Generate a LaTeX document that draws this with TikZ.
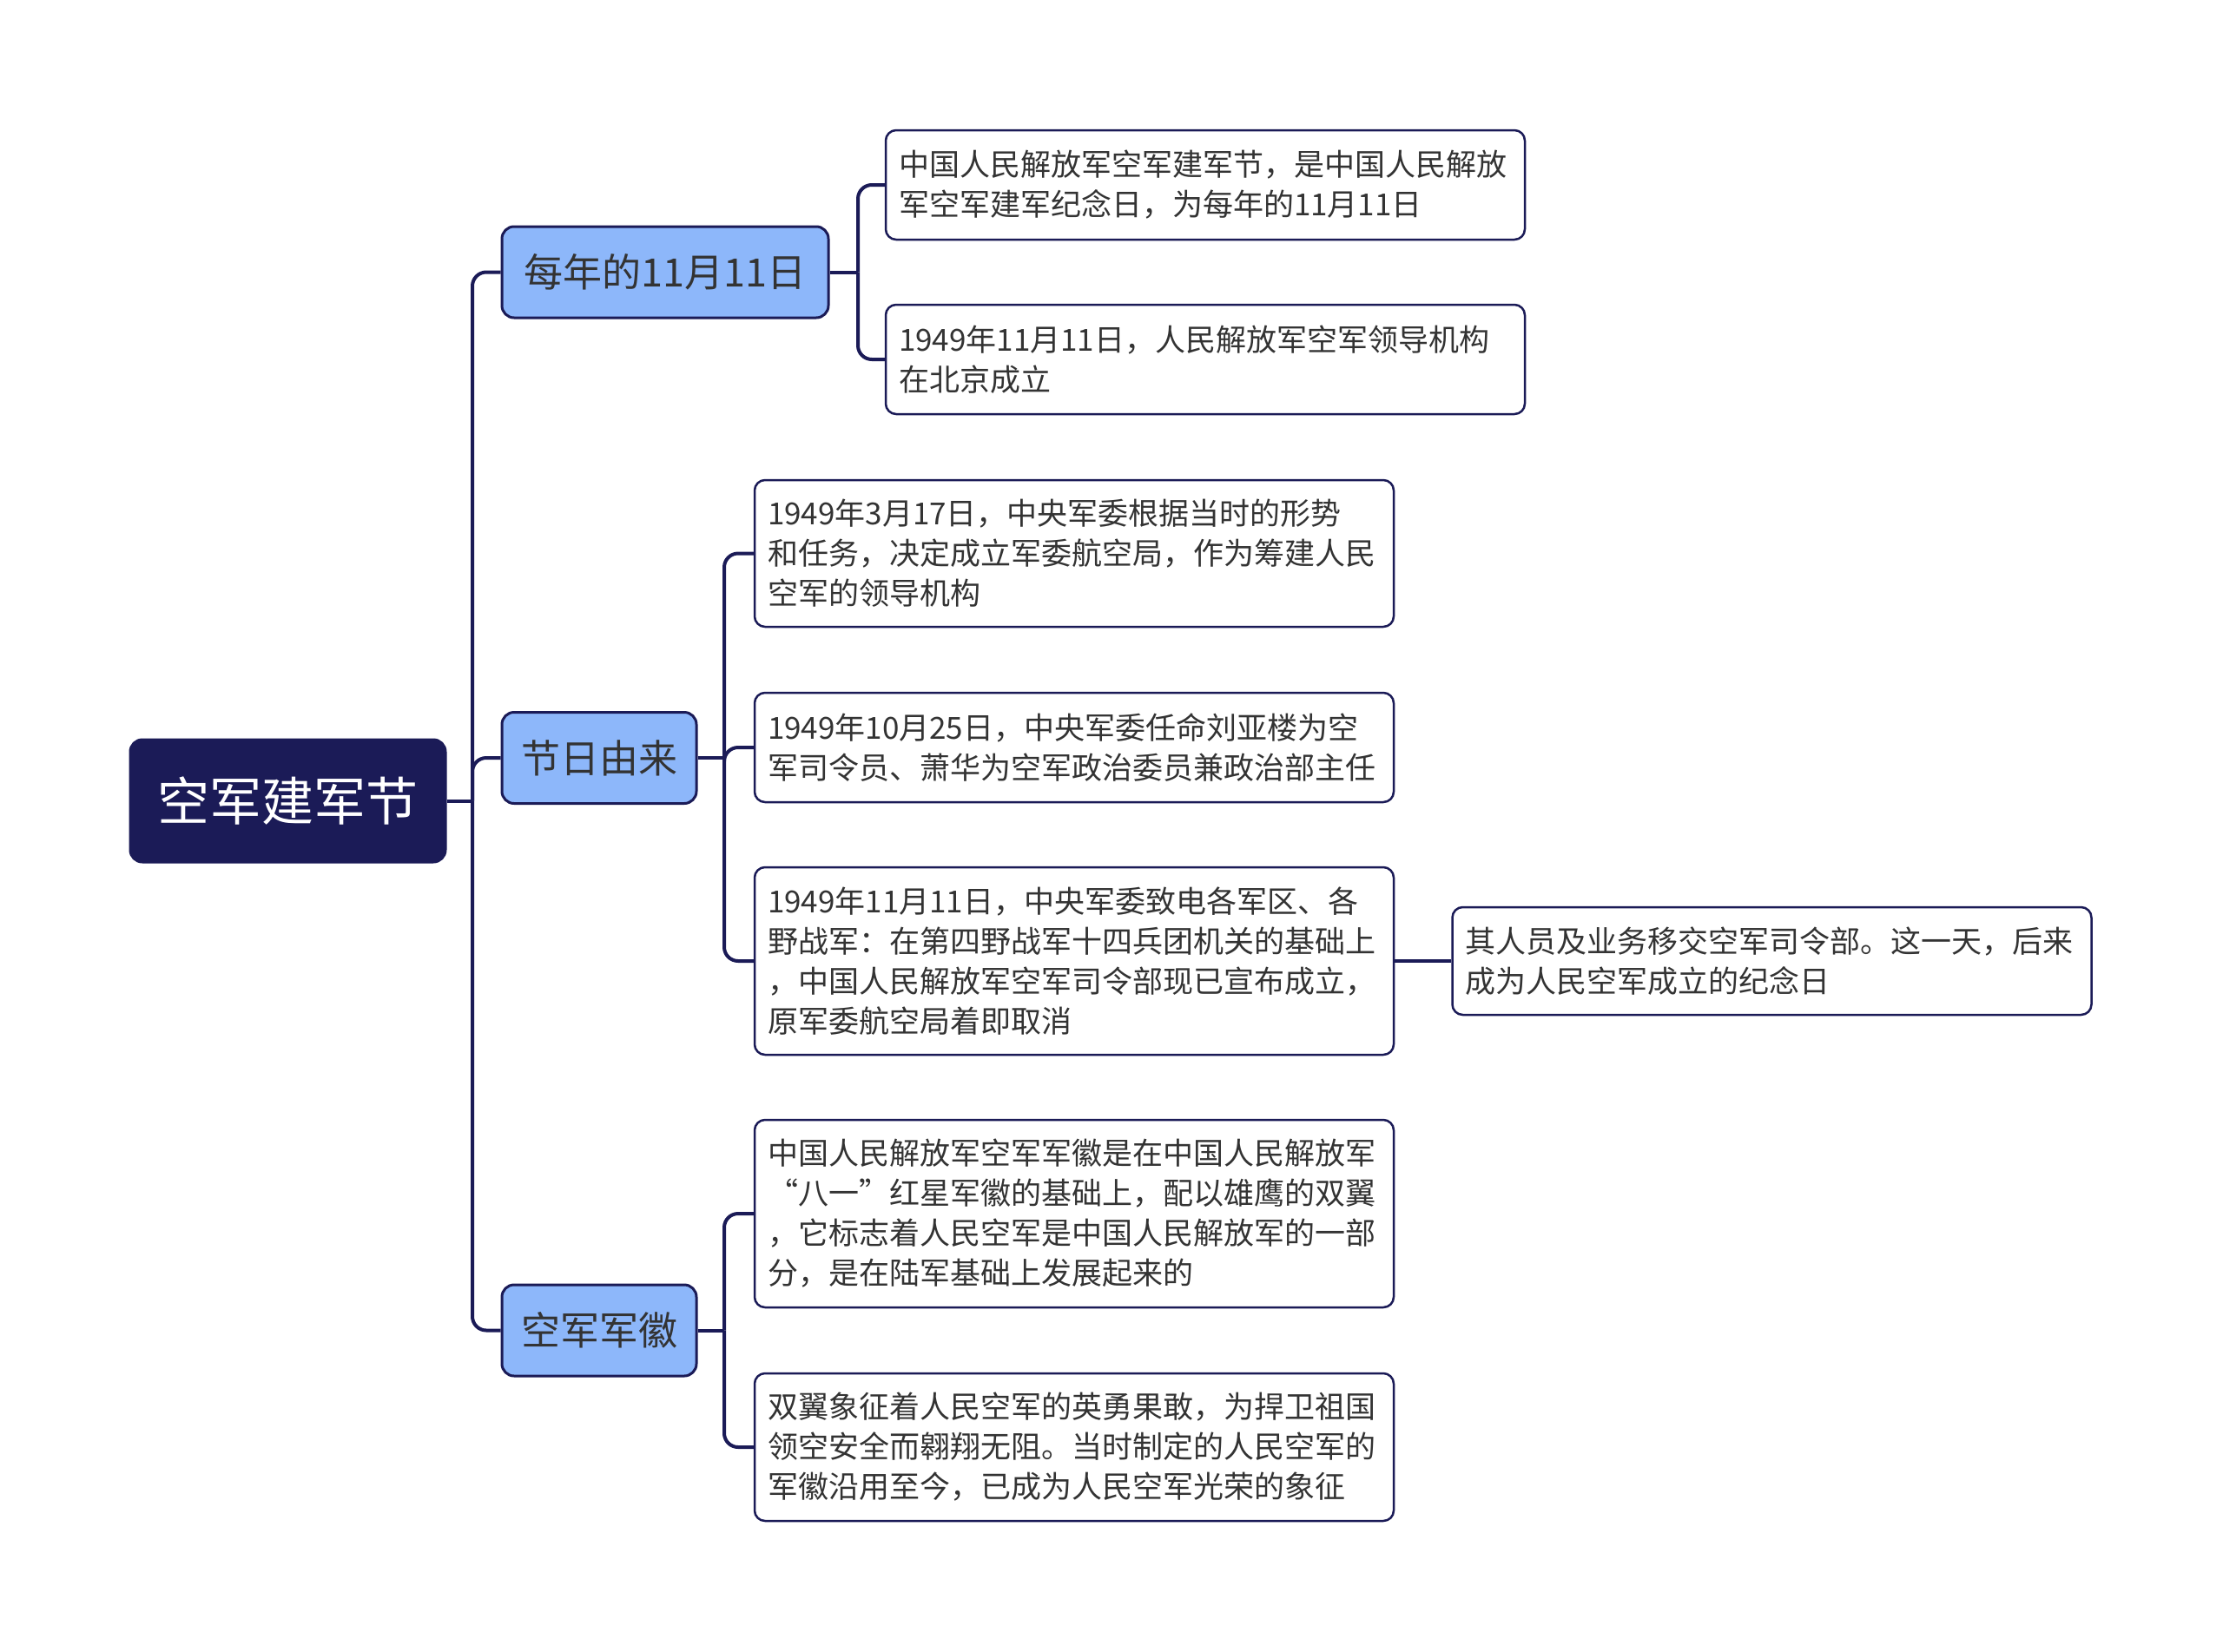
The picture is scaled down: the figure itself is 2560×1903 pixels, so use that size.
\documentclass[tikz,border=0pt]{standalone}
\usepackage{fontspec}
\setmainfont{Noto Sans CJK SC}
\definecolor{navy}{RGB}{27,27,87}
\definecolor{skyblue}{RGB}{141,183,250}
\definecolor{inkgray}{RGB}{51,51,51}
\tikzset{
  rootbox/.style={draw=navy, fill=navy, text=white, rounded corners=14pt, line width=3pt,
    font=\fontsize{60}{72}\selectfont, minimum width=363pt, minimum height=141pt},
  topicbox/.style={draw=navy, fill=skyblue, text=inkgray, rounded corners=14pt, line width=3pt,
    font=\fontsize{45}{54}\selectfont, minimum height=105pt, inner xsep=22pt},
  leafbox/.style={draw=navy, fill=white, text=inkgray, rounded corners=12pt, line width=2.5pt,
    font=\fontsize{35}{46}\selectfont, text width=706pt, align=left, inner xsep=15pt, inner ysep=6pt},
  link/.style={navy, line width=4pt, rounded corners=16pt},
}

\begin{document}
\begin{tikzpicture}[x=1pt, y=-1pt]
    \useasboundingbox[fill=white] (0,0) rectangle (2560,1903);
    % root and topics
    \node[rootbox] (root) at (331.5,922.5) {空军建军节};
    \node[topicbox, minimum width=376pt] (yearly) at (766,313.5) {每年的11月11日};
    \node[topicbox, minimum width=224pt] (origin) at (690,873) {节日由来};
    \node[topicbox, minimum width=224pt] (badge) at (690,1532.5) {空军军徽};
    % leaves
    \node[leafbox, minimum height=126pt] (leafA) at (1388,213) {中国人民解放军空军建军节，是中国人民解放\\军空军建军纪念日，为每年的11月11日};
    \node[leafbox, minimum height=126pt] (leafB) at (1388,414) {1949年11月11日，人民解放军空军领导机构\\在北京成立};
    \node[leafbox, minimum height=169pt] (leafC) at (1237,637.5) {1949年3月17日，中央军委根据当时的形势\\和任务，决定成立军委航空局，作为筹建人民\\空军的领导机构};
    \node[leafbox, minimum height=126pt] (leafD) at (1237,861) {1949年10月25日，中央军委任命刘亚楼为空\\军司令员、萧华为空军政治委员兼政治部主任};
    \node[leafbox, minimum height=216pt] (leafE) at (1237,1107) {1949年11月11日，中央军委致电各军区、各\\野战军：在第四野战军十四兵团机关的基础上\\，中国人民解放军空军司令部现已宣布成立，\\原军委航空局着即取消};
    \node[leafbox, minimum height=124pt] (leafF) at (2040.5,1107) {其人员及业务移交空军司令部。这一天，后来\\成为人民空军成立的纪念日};
    \node[leafbox, minimum height=216pt] (leafG) at (1237,1398) {中国人民解放军空军军徽是在中国人民解放军\\“八一”红星军徽的基础上，配以雄鹰的双翼\\，它标志着人民空军是中国人民解放军的一部\\分，是在陆军基础上发展起来的};
    \node[leafbox, minimum height=170pt] (leafH) at (1237,1667) {双翼象征着人民空军的英勇果敢，为捍卫祖国\\领空安全而翱翔无阻。当时制定的人民空军的\\军徽沿用至今，已成为人民空军光荣的象征};
    % trunks
    \coordinate (trunk0) at (544,0);
    \coordinate (trunk1) at (988,0);
    \coordinate (trunk2) at (834,0);
    % links
    \draw[link] (root.east) -- (root.east -| trunk0);
    \foreach \c in {yearly, origin, badge}
        \draw[link] (root.east -| trunk0) |- (\c.west);
    \draw[link] (yearly.east) -- (yearly.east -| trunk1);
    \foreach \c in {leafA, leafB}
        \draw[link] (yearly.east -| trunk1) |- (\c.west);
    \draw[link] (origin.east) -- (origin.east -| trunk2);
    \foreach \c in {leafC, leafD, leafE}
        \draw[link] (origin.east -| trunk2) |- (\c.west);
    \draw[link] (badge.east) -- (badge.east -| trunk2);
    \foreach \c in {leafG, leafH}
        \draw[link] (badge.east -| trunk2) |- (\c.west);
    \draw[link] (leafE.east) -- (leafF.west);
\end{tikzpicture}
\end{document}
